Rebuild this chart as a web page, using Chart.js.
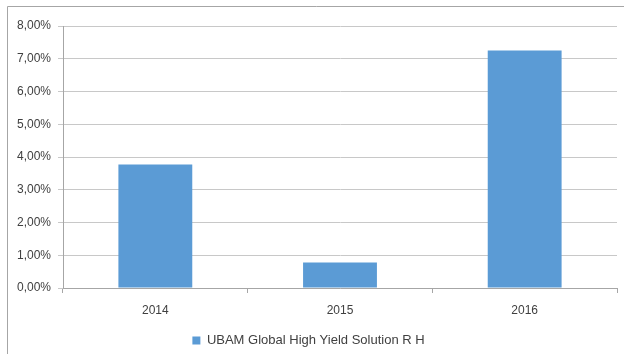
<!DOCTYPE html>
<html>
<head>
<meta charset="utf-8">
<script src="https://cdn.jsdelivr.net/npm/chart.js@4"></script>
<style>
html, body { margin: 0; padding: 0; background: #fff; }
#wrap { width: 624px; height: 354px; position: relative; }
</style>
</head>
<body>
<div id="wrap"><canvas id="yieldChart" width="624" height="354"></canvas></div>
<script>
var years = ["2014", "2015", "2016"];
var returns = [3.77, 0.78, 7.25];
var seriesName = "UBAM Global High Yield Solution R H";

// grey frame on the left and top edges, like the cropped Excel chart border
var frame = {
   id: 'frame',
   beforeDraw: function(chart) {
       var c = chart.ctx;
       c.save();
       c.strokeStyle = '#a6a6a6';
       c.lineWidth = 1;
       c.beginPath();
       c.moveTo(7.5, 360);
       c.lineTo(7.5, 6.5);
       c.lineTo(630, 6.5);
       c.stroke();
       c.restore();
   }
};

var ctx = document.getElementById("yieldChart").getContext('2d');
var myChart = new Chart(ctx, {
   type: 'bar',
   data: {
       labels: years,
       datasets: [{
           label: seriesName,
           data: returns,
           backgroundColor: '#5b9bd5',
           borderWidth: 0,
           barPercentage: 0.4,
           categoryPercentage: 1
       }]
   },
   options: {
       responsive: false,
       animation: false,
       layout: { padding: { left: 0, right: 7, top: 26, bottom: -3 } },
       font: { family: "'Liberation Sans', Arial, sans-serif", size: 12 },
       plugins: {
           legend: {
               position: 'bottom',
               labels: {
                   color: '#404040',
                   boxWidth: 8,
                   boxHeight: 8,
                   padding: 2,
                   font: { family: "'Liberation Sans', Arial, sans-serif", size: 13 }
               }
           },
           tooltip: { enabled: false }
       },
       scales: {
           x: {
               grid: { offset: true, drawOnChartArea: false, color: '#a6a6a6', tickLength: 5 },
               border: { color: '#a6a6a6' },
               ticks: { color: '#404040', padding: 10, font: { size: 12 } },
               afterFit: function(s) { s.height = 44; }
           },
           y: {
               min: 0,
               max: 8,
               ticks: {
                   stepSize: 1,
                   color: '#404040',
                   padding: 7,
                   font: { size: 12 },
                   callback: function(v) { return v.toFixed(2).replace('.', ',') + '%'; }
               },
               grid: { color: '#c8c8c8', tickLength: 5 },
               border: { color: '#a6a6a6' },
               afterFit: function(s) { s.width = 63; }
           }
       }
   },
   plugins: [frame]
});
</script>
</body>
</html>
